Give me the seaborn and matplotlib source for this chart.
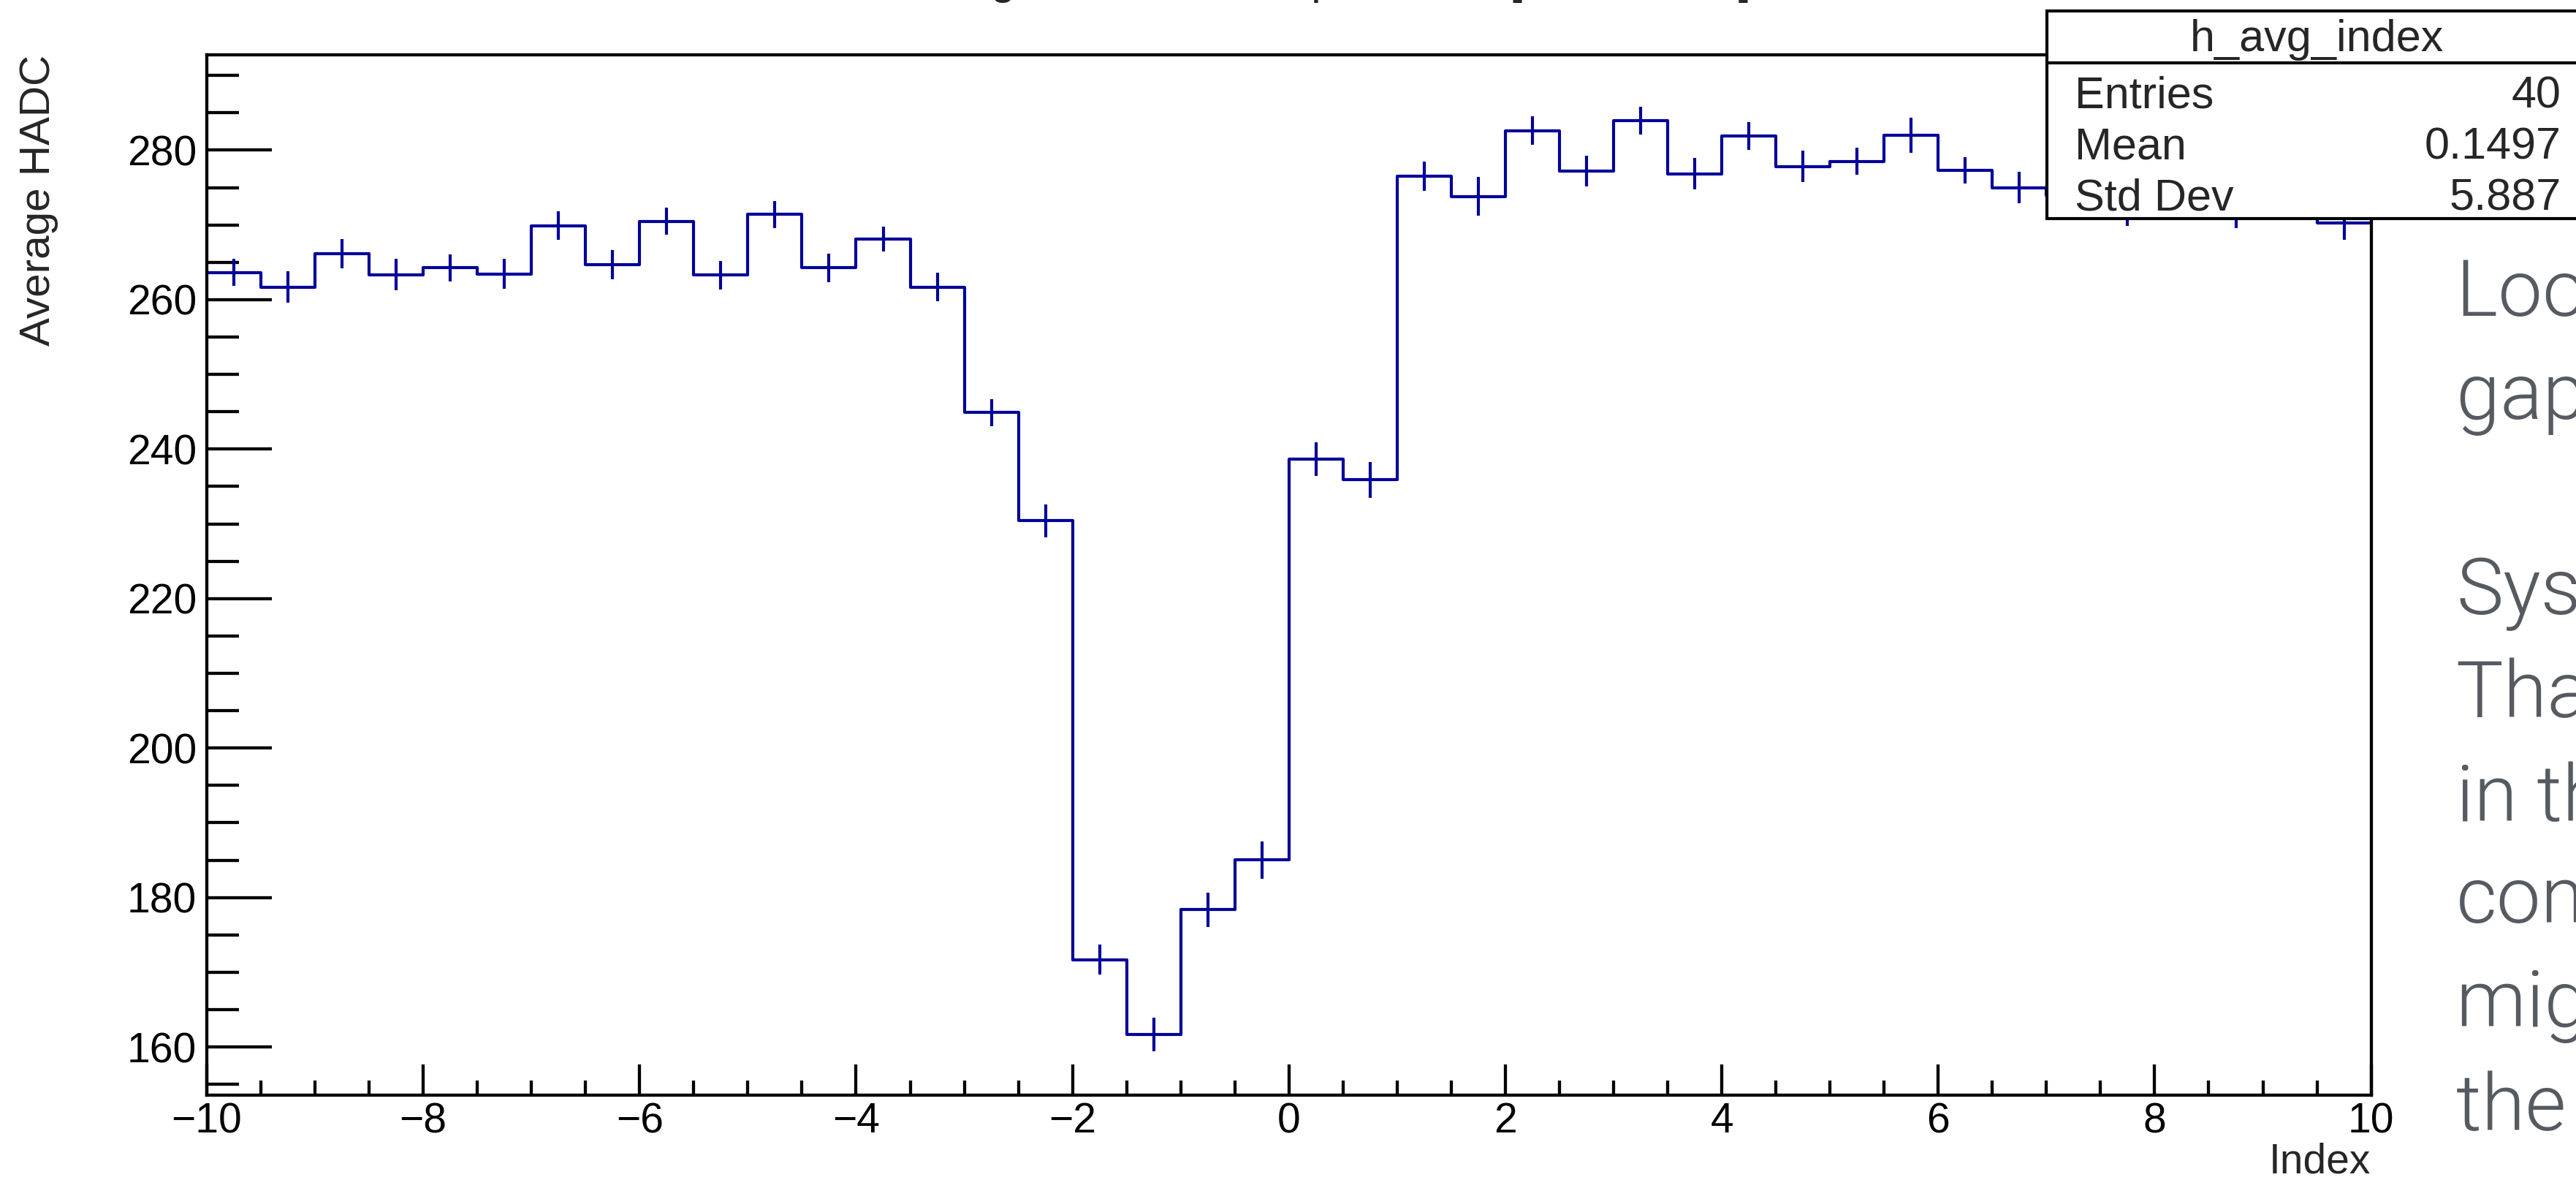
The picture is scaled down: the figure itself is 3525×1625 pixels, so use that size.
import numpy as np
import pandas as pd
import matplotlib
matplotlib.use("Agg")
import matplotlib.pyplot as plt
import matplotlib.font_manager as fm
from matplotlib.patches import Rectangle
from matplotlib.lines import Line2D
from matplotlib.ticker import MultipleLocator
import seaborn as sns

# ---------------- data ----------------
bin_low = -10.0
bin_high = 10.0
n_bins = 40

avg_hadc = [263.65, 261.7, 266.15, 263.35, 264.25, 263.45, 269.9, 264.65, 270.5, 263.3,
            271.4, 264.25, 268.1, 261.7, 244.9, 230.4, 171.7, 161.7, 178.4, 185.05,
            238.7, 235.9, 276.5, 273.8, 282.6, 277.25, 283.95, 276.85, 281.9, 277.8,
            278.5, 282.0, 277.3, 275.0, 274.0, 271.9, 274.5, 271.6, 274.0, 270.3]
err_hadc = [1.8, 2.1, 2.0, 2.1, 1.8, 2.0, 1.9, 1.95, 1.8, 1.9,
            1.8, 1.95, 1.7, 1.95, 1.8, 2.2, 2.0, 2.25, 2.3, 2.5,
            2.25, 2.4, 1.95, 2.6, 1.9, 2.05, 1.9, 2.1, 1.9, 2.1,
            1.8, 2.3, 1.8, 2.1, 2.0, 2.0, 2.0, 2.0, 2.0, 2.25]

stats_name = "h_avg_index"
stats_labels = ["Entries", "Mean", "Std Dev"]
stats_values = ["40", "0.1497", "5.887"]

x_label = "Index"
y_label = "Average HADC"
title_text = "Average HADC value per Index [ADC count]"
side_lines = ["Looking at the", "gap between", "", "Systematic", "That is", "in the", "conditions",
              "might be", "the reason"]

# ---------------- style ----------------
sns.set_style("ticks")
plt.rcParams["font.family"] = ["Liberation Sans", "DejaVu Sans"]
plt.rcParams["axes.unicode_minus"] = True

W, H = 3525, 1625
fig = plt.figure(figsize=(W / 100, H / 100), dpi=100)
fig.patch.set_facecolor("white")

def fxp(px):
    return px / W

def fyp(py):
    return 1 - py / H

ax_left, ax_right, ax_top, ax_bot = 283, 3244.6, 74.6, 1497.6
ax = fig.add_axes([fxp(ax_left), fyp(ax_bot), fxp(ax_right) - fxp(ax_left), fyp(ax_top) - fyp(ax_bot)])
ax.set_facecolor("white")

HIST_COLOR = "#000099"
edges = np.linspace(bin_low, bin_high, n_bins + 1)
centers = 0.5 * (edges[:-1] + edges[1:])
df = pd.DataFrame({"Index": centers, "HADC": avg_hadc, "err": err_hadc})

sns.histplot(data=df, x="Index", weights="HADC", bins=edges.tolist(), element="step", fill=False,
             color=HIST_COLOR, linewidth=3.0, ax=ax)
ax.errorbar(df["Index"], df["HADC"], yerr=df["err"], fmt="none", ecolor=HIST_COLOR,
            elinewidth=3.0, capsize=0)

ax.set_xlim(bin_low, bin_high)
ax.set_ylim(153.6, 292.8)
ax.xaxis.set_major_locator(MultipleLocator(2))
ax.xaxis.set_minor_locator(MultipleLocator(0.5))
ax.yaxis.set_major_locator(MultipleLocator(20))
ax.yaxis.set_minor_locator(MultipleLocator(5))
ax.grid(False)
for s in ax.spines.values():
    s.set_visible(True)
    s.set_linewidth(3.1)
    s.set_color("black")

ax.tick_params(which="both", direction="in", top=False, right=False, colors="black", width=3.1)
ax.tick_params(axis="y", which="major", length=64, pad=10, labelsize=41)
ax.tick_params(axis="y", which="minor", length=32)
ax.tick_params(axis="x", which="major", length=30, pad=7, labelsize=41)
ax.tick_params(axis="x", which="minor", length=14.4)

ax.set_xlabel(x_label, loc="right", fontsize=41)
ax.xaxis.set_label_coords(1.0, -0.0453)
ax.set_ylabel(y_label, loc="top", fontsize=42)
ax.yaxis.set_label_coords(-0.0686, 1.0)

# ---------------- stats box ----------------
bx0, bx1, by0, by1, bsep = 2801, 3545, 15, 299, 86
box = Rectangle((fxp(bx0), fyp(by1)), fxp(bx1) - fxp(bx0), fyp(by0) - fyp(by1),
                transform=fig.transFigure, facecolor="white", edgecolor="black",
                linewidth=3.0, zorder=10, clip_on=False)
fig.add_artist(box)
fig.add_artist(Line2D([fxp(bx0), fxp(bx1)], [fyp(bsep), fyp(bsep)], transform=fig.transFigure,
                      color="black", linewidth=3.0, zorder=11))
fig.text(fxp(3170), fyp(70), stats_name, ha="center", va="baseline", fontsize=44, zorder=12)
for i, (lab, val) in enumerate(zip(stats_labels, stats_values)):
    yb = 147 + i * 70.5
    fig.text(fxp(2839), fyp(yb), lab, ha="left", va="baseline", fontsize=44, zorder=12)
    fig.text(fxp(3505), fyp(yb), val, ha="right", va="baseline", fontsize=44, zorder=12)

# ---------------- clipped title ----------------
fig.canvas.draw()
renderer = fig.canvas.get_renderer()
pre = title_text.split("[")[0] + "["
t1 = fig.text(0, 0, pre, fontsize=44)
t2 = fig.text(0, 0, "[", fontsize=44)
w_pre = t1.get_window_extent(renderer).width - t2.get_window_extent(renderer).width
t1.remove()
t2.remove()
fig.text(fxp(2066 - w_pre), fyp(-9), title_text, ha="left", va="baseline", fontsize=44)

# ---------------- side slide text ----------------
light_path = None
for name in ["Roboto", "Inter", "Open Sans", "Lato", "Noto Sans"]:
    cands = [f for f in fm.fontManager.ttflist if f.name == name and isinstance(f.weight, (int, float))
             and f.weight <= 300 and f.style == "normal"]
    if cands:
        cands.sort(key=lambda f: abs(f.weight - 300))
        light_path = cands[0].fname
        break
if light_path:
    side_fp = fm.FontProperties(fname=light_path, size=78)
else:
    side_fp = fm.FontProperties(family="DejaVu Sans", weight="light", size=78)

baselines = [432, 573, 714, 840, 981, 1123, 1262, 1404, 1546]
for txt, yb in zip(side_lines, baselines):
    if txt:
        fig.text(fxp(3361), fyp(yb), txt, ha="left", va="baseline", color="#565b61",
                 fontproperties=side_fp)

fig.savefig("out.png", dpi=100, facecolor="white")
